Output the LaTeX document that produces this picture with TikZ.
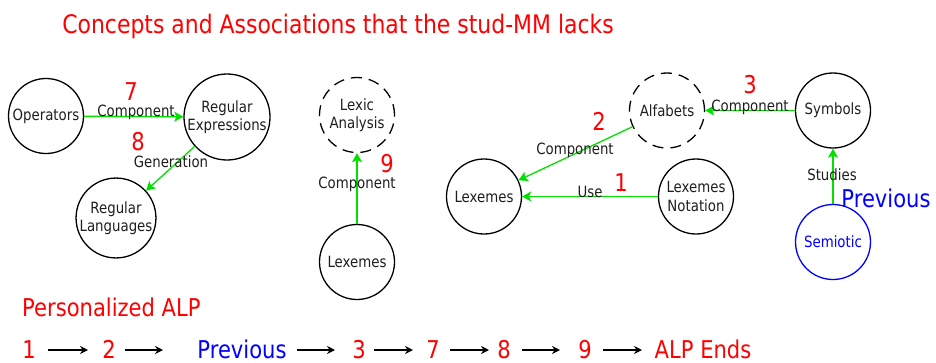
\documentclass[tikz,border=0pt]{standalone}
\usepackage{fontspec}
\setmainfont{DejaVu Sans}[FakeStretch=0.86]
\usetikzlibrary{arrows.meta}
\definecolor{lnred}{RGB}{255,0,0}
\definecolor{lnblue}{RGB}{0,0,255}
\definecolor{lngreen}{RGB}{0,225,0}
\definecolor{ink}{RGB}{30,30,30}

\begin{document}
\begin{tikzpicture}[x=1pt,y=-1pt,
  concept/.style={circle,draw=black,line width=1.3pt,minimum size=75pt,inner sep=0pt,
    align=center,font=\fontsize{15.5}{18.5}\selectfont,text=ink},
  missing/.style={concept,dash pattern=on 11pt off 7pt},
  rel/.style={draw=lngreen,line width=1.3pt,-{Stealth[length=9pt,width=10pt,inset=2pt]}},
  rellabel/.style={font=\fontsize{15.5}{18}\selectfont,text=ink,inner sep=0pt,anchor=base},
  ordnum/.style={font=\fontsize{24.5}{26}\selectfont,text=lnred,inner sep=0pt,anchor=base},
  bigred/.style={font=\fontsize{24.5}{26}\selectfont,text=lnred,inner sep=0pt,anchor=base},
  bigblue/.style={font=\fontsize{24.5}{26}\selectfont,text=lnblue,inner sep=0pt,anchor=base},
  seq/.style={draw=black,line width=1.6pt,-{Stealth[length=8pt,width=8pt]}},
]
\useasboundingbox (0,0) rectangle (936,362);

% title
\node[font=\fontsize{25.5}{28}\selectfont,text=lnred,inner sep=0pt,anchor=base] (title) at (338,33)
  {Concepts and Associations that the stud-MM lacks};

% concepts
\node[concept] (op)  at (46,116)  {Operators};
\node[concept] (re)  at (227,117) {Regular\\Expressions};
\node[concept] (rl)  at (116,218) {Regular\\Languages};
\node[missing] (la)  at (357,115) {Lexic\\Analysis};
\node[concept] (lx1) at (357,262) {Lexemes};
\node[missing] (al)  at (667,110.5) {Alfabets};
\node[concept] (lx2) at (484,196.5) {Lexemes};
\node[concept] (ln)  at (696,196.5) {Lexemes\\Notation};
\node[concept] (sy)  at (833,110.5) {Symbols};
\node[concept,draw=lnblue,text=lnblue] (se) at (833,242) {Semiotic};

% associations
\draw[rel] (op) -- (re);
\draw[rel] (re) -- (rl);
\draw[rel] (lx1) -- (la);
\draw[rel] (ln) -- (lx2);
\draw[rel] (al) -- (lx2);
\draw[rel] (sy) -- (al);
\draw[rel] (se) -- (sy);

% association labels
\node[rellabel] (l1) at (136,116) {Component};
\node[rellabel] (l2) at (171,167) {Generation};
\node[rellabel] (l3) at (357,188) {Component};
\node[rellabel] (l4) at (590,197) {Use};
\node[rellabel] (l5) at (575,154) {Component};
\node[rellabel] (l6) at (750,111.5) {Component};
\node[rellabel] (l7) at (832,180) {Studies};

% order numbers
\node[ordnum] (o7) at (131,100) {7};
\node[ordnum] (o8) at (138,150) {8};
\node[ordnum] (o9) at (387,172) {9};
\node[ordnum] (o1) at (621,191) {1};
\node[ordnum] (o2) at (599,130) {2};
\node[ordnum] (o3) at (750,93) {3};
\node[bigblue] (pv) at (886,207) {Previous};

% personalized path
\node[bigred,anchor=base west] (alp) at (22,316) {Personalized ALP};
\node[bigred]  (p1) at (29,358)  {1};
\node[bigred]  (p2) at (109,358) {2};
\node[bigblue] (p0) at (242,358) {Previous};
\node[bigred]  (p3) at (359,358) {3};
\node[bigred]  (p7) at (433,358) {7};
\node[bigred]  (p8) at (504,358) {8};
\node[bigred]  (p9) at (585,358) {9};
\node[bigred]  (pe) at (703,358) {ALP Ends};

\coordinate (a1s) at (48,350);  \coordinate (a1e) at (88,350);
\coordinate (a2s) at (125,350); \coordinate (a2e) at (163,350);
\coordinate (a3s) at (297,350); \coordinate (a3e) at (335,350);
\coordinate (a4s) at (374,350); \coordinate (a4e) at (413,350);
\coordinate (a5s) at (450,350); \coordinate (a5e) at (489,350);
\coordinate (a6s) at (522,350); \coordinate (a6e) at (560,350);
\coordinate (a7s) at (603,350); \coordinate (a7e) at (642,350);
\draw[seq] (a1s) -- (a1e);
\draw[seq] (a2s) -- (a2e);
\draw[seq] (a3s) -- (a3e);
\draw[seq] (a4s) -- (a4e);
\draw[seq] (a5s) -- (a5e);
\draw[seq] (a6s) -- (a6e);
\draw[seq] (a7s) -- (a7e);
\end{tikzpicture}
\end{document}
